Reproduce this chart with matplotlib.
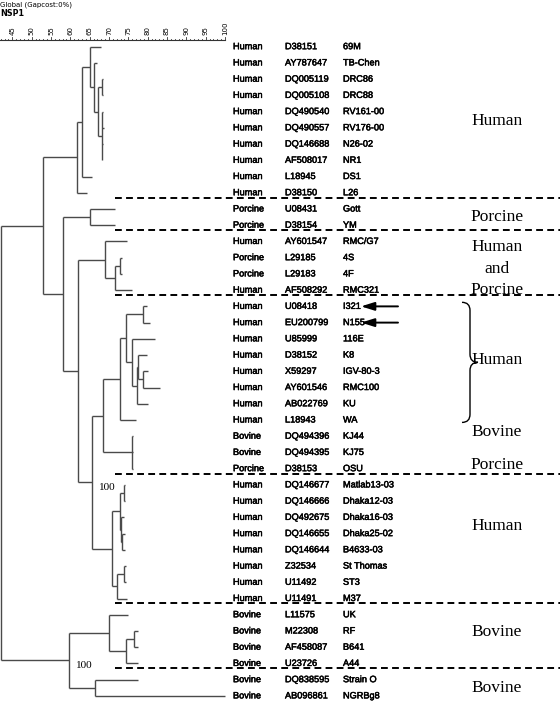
import matplotlib.pyplot as plt
import matplotlib.patheffects as pe
from matplotlib.transforms import blended_transform_factory
from matplotlib.path import Path
from matplotlib.patches import PathPatch

# Leaf labels, top to bottom
hosts = (['Human'] * 10 + ['Porcine'] * 2 + ['Human', 'Porcine', 'Porcine', 'Human']
         + ['Human'] * 8 + ['Bovine', 'Bovine', 'Porcine'] + ['Human'] * 8 + ['Bovine'] * 6)
accessions = ['D38151', 'AY787647', 'DQ005119', 'DQ005108', 'DQ490540', 'DQ490557',
              'DQ146688', 'AF508017', 'L18945', 'D38150', 'U08431', 'D38154',
              'AY601547', 'L29185', 'L29183', 'AF508292', 'U08418', 'EU200799',
              'U85999', 'D38152', 'X59297', 'AY601546', 'AB022769', 'L18943',
              'DQ494396', 'DQ494395', 'D38153', 'DQ146677', 'DQ146666', 'DQ492675',
              'DQ146655', 'DQ146644', 'Z32534', 'U11492', 'U11491', 'L11575',
              'M22308', 'AF458087', 'U23726', 'DQ838595', 'AB096861']
strains = ['69M', 'TB-Chen', 'DRC86', 'DRC88', 'RV161-00', 'RV176-00', 'N26-02', 'NR1',
           'DS1', 'L26', 'Gott', 'YM', 'RMC/G7', '4S', '4F', 'RMC321', 'I321', 'N155',
           '116E', 'K8', 'IGV-80-3', 'RMC100', 'KU', 'WA', 'KJ44', 'KJ75', 'OSU',
           'Matlab13-03', 'Dhaka12-03', 'Dhaka16-03', 'Dhaka25-02', 'B4633-03',
           'St Thomas', 'ST3', 'M37', 'UK', 'RF', 'B641', 'A44', 'Strain O', 'NGRBg8']

# similarity (%) where each leaf branch ends
leaf_sim = [67.9, 67.0, 68.5, 68.5, 68.4, 68.6, 68.5, 68.2, 65.5, 64.2,
            71.6, 71.6, 74.6, 73.4, 73.4, 75.9, 79.9, 80.6, 81.9, 79.9,
            80.2, 83.2, 80.2, 77.0, 76.1, 76.1, 76.1, 74.1, 74.1, 74.0,
            74.2, 74.1, 74.4, 74.4, 74.7, 75.0, 77.4, 77.4, 77.6, 77.6, 100.0]

# internal nodes: similarity and children (ints are leaves)
node_sim = {
    'n0': 68.27, 'n1': 68.12, 'n2': 67.24, 'n3': 66.2, 'n4': 65.1, 'n5': 63.0,
    'n6': 61.65, 'n7': 65.1, 'n8': 72.9, 'n9': 71.56, 'n10': 68.97, 'n11': 78.72,
    'n12': 78.72, 'n13': 77.4, 'n14': 77.17, 'n15': 75.88, 'n16': 74.33,
    'n17': 72.85, 'n18': 75.88, 'n19': 68.53, 'n20': 73.9, 'n21': 73.4,
    'n22': 73.1, 'n23': 72.85, 'n24': 73.89, 'n25': 72.0, 'n26': 70.7,
    'n27': 65.53, 'n28': 62.07, 'n29': 58.19, 'n30': 53.0, 'n31': 76.55,
    'n32': 74.4, 'n33': 70.08, 'n34': 66.39, 'n35': 59.66, 'root': 42.08,
}
node_children = {
    'n0': [2, 3], 'n1': [4, 5, 6, 7], 'n2': ['n0', 'n1'], 'n3': [1, 'n2'],
    'n4': [0, 'n3'], 'n5': ['n4', 8], 'n6': ['n5', 9], 'n7': [10, 11],
    'n8': [13, 14], 'n9': ['n8', 15], 'n10': [12, 'n9'], 'n11': [16, 17],
    'n12': [20, 21], 'n13': [19, 'n12'], 'n14': ['n13', 22], 'n15': [18, 'n14'],
    'n16': ['n11', 'n15'], 'n17': ['n16', 23], 'n18': [24, 25, 26],
    'n19': ['n17', 'n18'], 'n20': [27, 28], 'n21': [30, 31], 'n22': [29, 'n21'],
    'n23': ['n20', 'n22'], 'n24': [32, 33], 'n25': ['n24', 34],
    'n26': ['n23', 'n25'], 'n27': ['n19', 'n26'], 'n28': ['n10', 'n27'],
    'n29': ['n7', 'n28'], 'n30': ['n6', 'n29'], 'n31': [36, 37],
    'n32': ['n31', 38], 'n33': [35, 'n32'], 'n34': [39, 40],
    'n35': ['n33', 'n34'], 'root': ['n30', 'n35'],
}
bootstrap = {'n27': '100', 'n35': '100'}

scale_ticks = [45, 50, 55, 60, 65, 70, 75, 80, 85, 90, 95, 100]

separators = [9, 11, 15, 26, 34, 38]
groups = [('Human', 4.6), ('Porcine', 10.5), ('Human', 12.35), ('and', 13.7),
          ('Porcine', 15.0), ('Human', 19.3), ('Bovine', 23.75), ('Porcine', 25.8),
          ('Human', 29.55), ('Bovine', 36.05), ('Bovine', 39.5)]
arrow_rows = [16, 17]

W, H = 560, 702
fig = plt.figure(figsize=(W / 100, H / 100), dpi=100)
ax = fig.add_axes([0, 0, 1, 1])
ax.axis('off')

# pixel -> data helpers for the limits
px_per_pct = 3.867
row_h = 16.23
ax.set_xlim(45 - 12.3 / px_per_pct, 45 + (W - 12.3) / px_per_pct)
ax.set_ylim((H - 46.7) / row_h, -46.7 / row_h)

tree_col = '#4a4a4a'


def node_pos(name):
    if isinstance(name, int):
        return leaf_sim[name], float(name)
    ys = [node_pos(c)[1] for c in node_children[name]]
    return node_sim[name], (min(ys) + max(ys)) / 2


for name, kids in node_children.items():
    x, y = node_pos(name)
    cys = []
    for c in kids:
        cx, cy = node_pos(c)
        cys.append(cy)
        ax.plot([x, cx], [cy, cy], color=tree_col, lw=1.0, solid_capstyle='butt')
    ax.plot([x, x], [min(cys), max(cys)], color=tree_col, lw=1.0, solid_capstyle='butt')
    if name in bootstrap:
        ax.text(x + 1.8, y + 0.3, bootstrap[name], fontsize=8, family='Liberation Serif',
                va='center', ha='left')

# similarity scale
x0 = ax.get_xlim()[0]
ruler_y = -0.41
ax.plot([x0, 100], [ruler_y, ruler_y], color='#333333', lw=0.8)
for v in range(42, 101):
    ax.plot([v, v], [ruler_y, ruler_y - (0.2 if v % 5 == 0 else 0.09)],
            color='#333333', lw=0.6)
for v in scale_ticks:
    ax.text(v, ruler_y - 0.3, str(v), rotation=90, fontsize=5, ha='center',
            va='bottom', family='DejaVu Sans')

fig.text(0.0, 1 - 1 / H, 'Global (Gapcost:0%)', fontsize=5, va='top', ha='left')
fig.text(0.0, 1 - 9 / H, 'NSP1', fontsize=5.8, fontweight='bold', va='top', ha='left')

# label columns
tr = blended_transform_factory(fig.transFigure, ax.transData)
thick = [pe.withStroke(linewidth=0.35, foreground='black')]
for i in range(len(hosts)):
    for col_x, txt in zip([233, 285, 343], [hosts[i], accessions[i], strains[i]]):
        ax.text(col_x / W, i, txt, transform=tr, fontsize=6.6, va='center',
                ha='left', family='Liberation Sans', color='black',
                path_effects=thick)

for r in separators:
    ax.plot([115 / W, 1.0], [r + 0.3, r + 0.3], transform=tr, color='black',
            lw=1.4, ls=(0, (3.5, 2.2)))

for txt, r in groups:
    ax.text(497 / W, r, txt, transform=tr, fontsize=12.5, family='Liberation Serif',
            ha='center', va='center')

for r in arrow_rows:
    ax.annotate('', xy=(361 / W, r), xytext=(398 / W, r), xycoords=tr, textcoords=tr,
                arrowprops=dict(arrowstyle='-|>,head_length=0.8,head_width=0.25',
                                color='black', lw=1.4, shrinkA=0, shrinkB=0))

# curly brace next to the I321 group
top, bot = 15.75, 23.15
mid = (top + bot) / 2
bx0, bx1, bx2 = 462 / W, 470 / W, 478 / W
verts = [(bx0, top), (bx1, top), (bx1, top + 0.5),
         (bx1, mid - 0.5),
         (bx1, mid), (bx2, mid),
         (bx1, mid), (bx1, mid + 0.5),
         (bx1, bot - 0.5),
         (bx1, bot), (bx0, bot)]
codes = [Path.MOVETO, Path.CURVE3, Path.CURVE3, Path.LINETO,
         Path.CURVE3, Path.CURVE3, Path.CURVE3, Path.CURVE3,
         Path.LINETO, Path.CURVE3, Path.CURVE3]
ax.add_patch(PathPatch(Path(verts, codes), transform=tr, fill=False, lw=1.0,
                       edgecolor='black'))

fig.savefig('out.png', dpi=100)
